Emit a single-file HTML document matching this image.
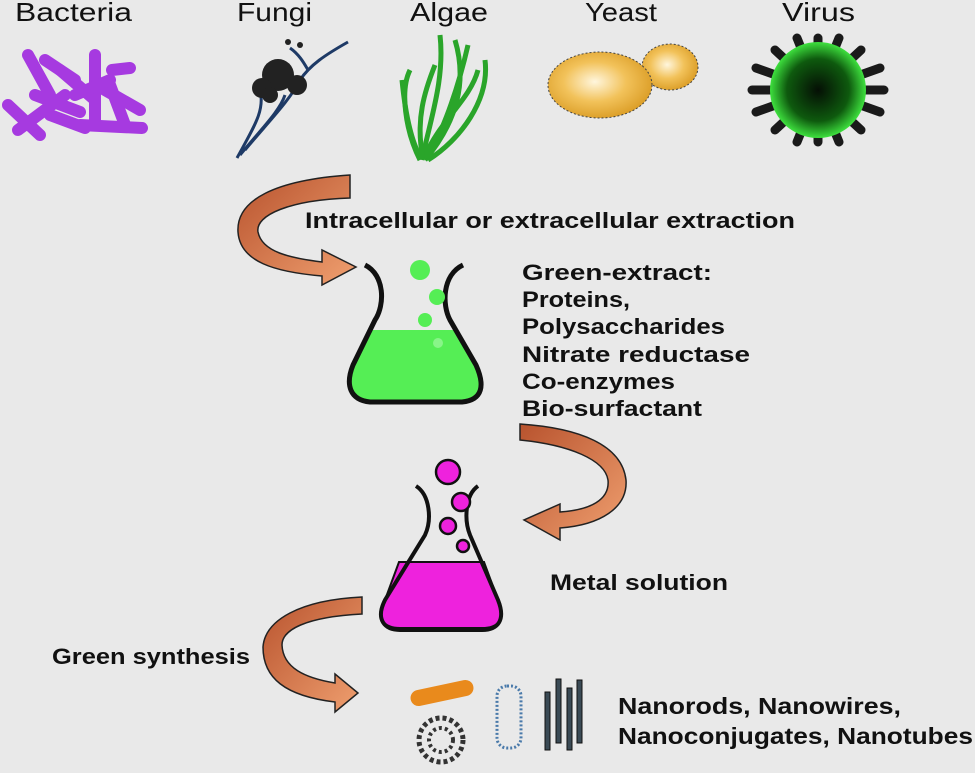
<!DOCTYPE html>
<html><head><meta charset="utf-8"><style>
html,body{margin:0;padding:0;background:#e9e9e9;}
svg{display:block}
.t{font-family:"Liberation Sans",sans-serif;fill:#111}
.b{font-weight:bold;font-size:22px}
</style></head><body>
<svg width="975" height="773" viewBox="0 0 975 773" xmlns="http://www.w3.org/2000/svg">
<defs>
<radialGradient id="yg" cx="0.45" cy="0.45" r="0.6"><stop offset="0" stop-color="#fff6dd"/><stop offset="0.5" stop-color="#f2c25a"/><stop offset="1" stop-color="#d99a22"/></radialGradient>
<radialGradient id="vg" cx="0.5" cy="0.5" r="0.5"><stop offset="0" stop-color="#050f05"/><stop offset="0.65" stop-color="#0e5a0e"/><stop offset="1" stop-color="#3ee03e"/></radialGradient>
<linearGradient id="ag" x1="0" y1="0" x2="1" y2="1"><stop offset="0" stop-color="#b8532e"/><stop offset="1" stop-color="#f0a070"/></linearGradient>
</defs>
<rect width="975" height="773" fill="#e9e9e9"/>
<g class="t" font-size="26">
<text x="15" y="21" textLength="117" lengthAdjust="spacingAndGlyphs">Bacteria</text>
<text x="237" y="21" textLength="75" lengthAdjust="spacingAndGlyphs">Fungi</text>
<text x="410" y="21" textLength="78" lengthAdjust="spacingAndGlyphs">Algae</text>
<text x="585" y="21" textLength="72" lengthAdjust="spacingAndGlyphs">Yeast</text>
<text x="782" y="21" textLength="73" lengthAdjust="spacingAndGlyphs">Virus</text>
</g>
<!-- bacteria -->
<g stroke="#a63ae0" stroke-width="12" stroke-linecap="round" fill="none">
<line x1="8" y1="105" x2="40" y2="135"/><line x1="28" y1="55" x2="50" y2="95"/>
<line x1="45" y1="60" x2="75" y2="80"/><line x1="95" y1="55" x2="95" y2="125"/>
<line x1="35" y1="95" x2="80" y2="112"/><line x1="18" y1="130" x2="65" y2="95"/>
<line x1="112" y1="70" x2="130" y2="68"/><line x1="105" y1="90" x2="140" y2="110"/>
<line x1="80" y1="125" x2="142" y2="128"/><line x1="60" y1="70" x2="95" y2="100"/>
<line x1="110" y1="85" x2="125" y2="125"/><line x1="50" y1="115" x2="85" y2="128"/>
<line x1="75" y1="95" x2="110" y2="80"/>
</g>
<!-- fungi -->
<g stroke="#1e3a66" stroke-width="3" fill="none">
<path d="M237,158 C255,125 265,110 260,90"/><path d="M240,155 C265,125 280,110 285,95"/>
<path d="M245,150 C270,120 290,100 300,80 C310,65 325,55 348,42"/>
<path d="M290,48 C300,55 305,65 308,70"/>
</g>
<g fill="#222"><circle cx="278" cy="75" r="16"/><circle cx="262" cy="88" r="10"/><circle cx="297" cy="85" r="10"/><circle cx="270" cy="95" r="8"/><circle cx="300" cy="45" r="3"/><circle cx="288" cy="42" r="3"/></g>
<!-- algae -->
<g stroke="#2aa52a" stroke-width="5" fill="none">
<path d="M420,160 C405,130 400,90 410,70"/><path d="M422,160 C430,120 445,80 440,35"/>
<path d="M425,160 C450,130 470,90 455,40"/><path d="M428,160 C460,140 490,100 485,60"/>
<path d="M424,158 C440,120 470,100 478,70"/><path d="M423,158 C415,120 425,90 435,65"/>
<path d="M426,158 C445,130 460,80 468,45"/><path d="M421,158 C410,140 405,110 402,80"/>
</g>
<!-- yeast -->
<ellipse cx="670" cy="67" rx="28" ry="23" fill="url(#yg)" stroke="#444" stroke-width="1" stroke-dasharray="2,2"/>
<ellipse cx="600" cy="85" rx="52" ry="33" fill="url(#yg)" stroke="#444" stroke-width="1" stroke-dasharray="2,2"/>
<!-- virus -->
<g stroke="#1a1a1a" stroke-width="9" stroke-linecap="round">
<line x1="818" y1="38" x2="818" y2="142"/><line x1="752" y1="90" x2="884" y2="90"/>
<line x1="775" y1="50" x2="861" y2="130"/><line x1="861" y1="50" x2="775" y2="130"/>
<line x1="797" y1="38" x2="839" y2="142"/><line x1="839" y1="38" x2="797" y2="142"/>
<line x1="756" y1="68" x2="880" y2="112"/><line x1="756" y1="112" x2="880" y2="68"/>
</g>
<circle cx="818" cy="90" r="48" fill="url(#vg)"/>
<!-- arrows -->
<g stroke="#222" stroke-width="1.5" fill="url(#ag)">
<path d="M350,175 L350,198 C290,200 255,215 258,232 C262,252 290,258 322,262 L322,250 L356,267 L322,285 L322,276 C275,272 240,262 238,232 C236,200 275,180 350,175 Z"/>
<path d="M520,424 L520,440 C570,445 605,460 608,480 C610,500 590,510 560,512 L560,504 L524,520 L560,540 L560,528 C600,525 628,508 626,480 C622,445 580,428 520,424 Z"/>
<path d="M362,597 L362,614 C305,617 282,630 282,645 C283,668 305,678 335,683 L335,674 L358,693 L335,712 L335,702 C285,696 263,678 263,647 C265,620 300,600 362,597 Z"/>
</g>
<text class="t b" x="305" y="228" textLength="490" lengthAdjust="spacingAndGlyphs">Intracellular or extracellular extraction</text>
<!-- flask 1 -->
<path d="M371,330 L456,330 L476,365 C485,385 483,398 462,400 L370,400 C350,398 345,385 353,365 Z" fill="#55ee55"/>
<path d="M365,265 C385,275 385,305 375,320 L353,365 C345,385 350,400 370,402 L462,402 C483,400 485,385 476,365 L450,320 C442,305 442,275 463,265" fill="none" stroke="#111" stroke-width="5"/>
<g fill="#55ee55"><circle cx="420" cy="270" r="10"/><circle cx="437" cy="297" r="8"/><circle cx="425" cy="320" r="7"/><circle cx="438" cy="343" r="5" fill="#88f588"/></g>
<g class="t b">
<text x="522" y="280" textLength="190" lengthAdjust="spacingAndGlyphs">Green-extract:</text>
<text x="522" y="307" textLength="108" lengthAdjust="spacingAndGlyphs">Proteins,</text>
<text x="522" y="334" textLength="203" lengthAdjust="spacingAndGlyphs">Polysaccharides</text>
<text x="522" y="362" textLength="228" lengthAdjust="spacingAndGlyphs">Nitrate reductase</text>
<text x="522" y="389" textLength="153" lengthAdjust="spacingAndGlyphs">Co-enzymes</text>
<text x="522" y="416" textLength="180" lengthAdjust="spacingAndGlyphs">Bio-surfactant</text>
</g>
<!-- flask 2 -->
<path d="M399,562 L484,562 L498,600 C506,620 498,628 482,628 L400,628 C385,628 375,620 385,600 Z" fill="#ee22dd" stroke="#111" stroke-width="2"/>
<path d="M416,486 C430,495 432,520 425,535 L385,600 C375,620 385,630 400,630 L482,630 C498,630 506,620 498,600 L470,535 C464,520 465,495 478,486" fill="none" stroke="#111" stroke-width="4"/>
<g fill="#ee22dd" stroke="#111" stroke-width="2.5"><circle cx="448" cy="472" r="12"/><circle cx="461" cy="502" r="9"/><circle cx="448" cy="526" r="8"/><circle cx="463" cy="546" r="6"/></g>
<text class="t b" x="550" y="590" textLength="178" lengthAdjust="spacingAndGlyphs">Metal solution</text>
<text class="t b" x="52" y="664" textLength="198" lengthAdjust="spacingAndGlyphs">Green synthesis</text>
<!-- nano -->
<rect x="410" y="685" width="64" height="16" rx="8" fill="#e98a1c" transform="rotate(-12 442 693)"/>
<circle cx="441" cy="740" r="22" fill="none" stroke="#333" stroke-width="5" stroke-dasharray="4,3"/>
<circle cx="441" cy="740" r="12" fill="none" stroke="#333" stroke-width="4" stroke-dasharray="3,3"/>
<rect x="497" y="686" width="24" height="62" rx="10" fill="none" stroke="#4a7aaa" stroke-width="3" stroke-dasharray="2,2"/>
<g fill="#3a4a55" stroke="#111" stroke-width="1"><rect x="545" y="692" width="5" height="58"/><rect x="556" y="679" width="5" height="64"/><rect x="567" y="688" width="5" height="62"/><rect x="577" y="680" width="5" height="63"/></g>
<g class="t" font-weight="bold" font-size="23">
<text x="618" y="714" textLength="283" lengthAdjust="spacingAndGlyphs">Nanorods, Nanowires,</text>
<text x="618" y="744" textLength="355" lengthAdjust="spacingAndGlyphs">Nanoconjugates, Nanotubes</text>
</g>
</svg>
</body></html>
